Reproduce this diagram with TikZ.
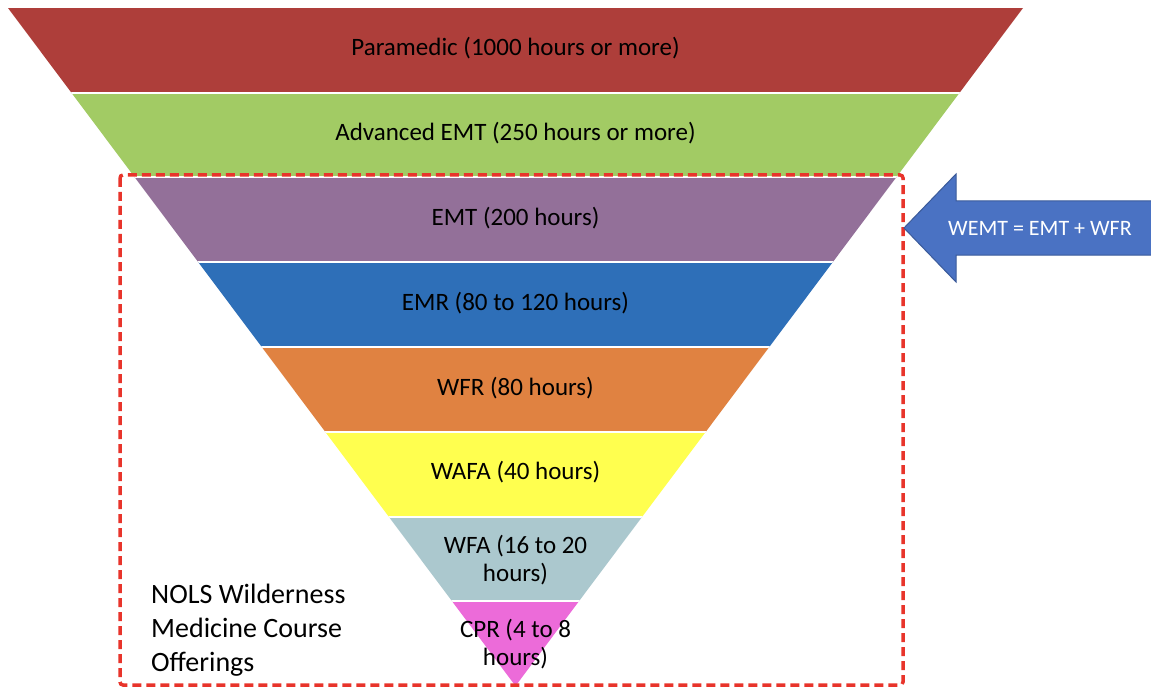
\documentclass[tikz,border=0pt]{standalone}
\usepackage{fontspec}
\setmainfont{Carlito}
\definecolor{cPara}{HTML}{AE3E3A}
\definecolor{cAdv}{HTML}{A2CB64}
\definecolor{cEMT}{HTML}{937099}
\definecolor{cEMR}{HTML}{2E6FB8}
\definecolor{cWFR}{HTML}{E08241}
\definecolor{cWAFA}{HTML}{FFFF4F}
\definecolor{cWFA}{HTML}{ABC8CE}
\definecolor{cCPR}{HTML}{EC6BD9}
\definecolor{arrowblue}{HTML}{4A72C3}
\definecolor{arrowedge}{HTML}{3A5A9A}
\definecolor{dashred}{HTML}{E8342B}
\begin{document}
\begin{tikzpicture}[x=1pt,y=-1pt,
  bandtext/.style={font=\fontsize{25}{28}\selectfont, text=black, inner sep=0pt, align=center},
  gapline/.style={white, line width=2pt},
  groupbox/.style={draw=dashred, line width=3.5pt, dash pattern=on 9pt off 5pt, rounded corners=3pt},
  callout/.style={fill=arrowblue, draw=arrowedge, line width=1pt, line join=miter}]
\useasboundingbox (0,0) rectangle (1151,687);
\fill[white] (0,0) rectangle (1151,687);
\coordinate (tl) at (8,8);
\coordinate (tr) at (1023,8);
\coordinate (apex) at (515.5,686);
\begin{scope}
  \clip (tl) -- (tr) -- (apex) -- cycle;
  \fill[cPara] (0,8) rectangle (1151,92.75);
  \fill[cAdv]  (0,92.75) rectangle (1151,177.5);
  \fill[cEMT]  (0,177.5) rectangle (1151,262.25);
  \fill[cEMR]  (0,262.25) rectangle (1151,347);
  \fill[cWFR]  (0,347) rectangle (1151,431.75);
  \fill[cWAFA] (0,431.75) rectangle (1151,516.5);
  \fill[cWFA]  (0,516.5) rectangle (1151,601.25);
  \fill[cCPR]  (0,601.25) rectangle (1151,690);
  \foreach \y in {92.75,177.5,262.25,347,431.75,516.5,601.25}
    \draw[gapline] (0,\y) -- (1151,\y);
\end{scope}
\node[bandtext, anchor=base] (para) at (515.5,56) {Paramedic (1000 hours or more)};
\node[bandtext, anchor=base] (adv) at (515.5,140.75) {Advanced EMT (250 hours or more)};
\node[bandtext, anchor=base] (emt) at (515.5,225.5) {EMT (200 hours)};
\node[bandtext, anchor=base] (emr) at (515.5,310.25) {EMR (80 to 120 hours)};
\node[bandtext, anchor=base] (wfr) at (515.5,395) {WFR (80 hours)};
\node[bandtext, anchor=base] (wafa) at (515.5,479.75) {WAFA (40 hours)};
\node[bandtext] (wfa) at (515.5,560) {WFA (16 to 20\\hours)};
\node[bandtext] (cpr) at (515.5,644.5) {CPR (4 to 8\\hours)};
\draw[groupbox] (120,175) rectangle (903,685);
\node[font=\fontsize{28}{34}\selectfont, align=left, anchor=north west, inner sep=0pt] (nols) at (151,584) {NOLS Wilderness\\Medicine Course\\Offerings};
\coordinate (arrowtip) at (904,228);
\draw[callout] (arrowtip) -- (956,174) -- (956,201) -- (1175,201) -- (1175,255) -- (956,255) -- (956,282) -- cycle;
\node[font=\fontsize{22}{24}\selectfont, text=white, inner sep=0pt] (wemt) at (1040,228) {WEMT = EMT + WFR};
\end{tikzpicture}
\end{document}
